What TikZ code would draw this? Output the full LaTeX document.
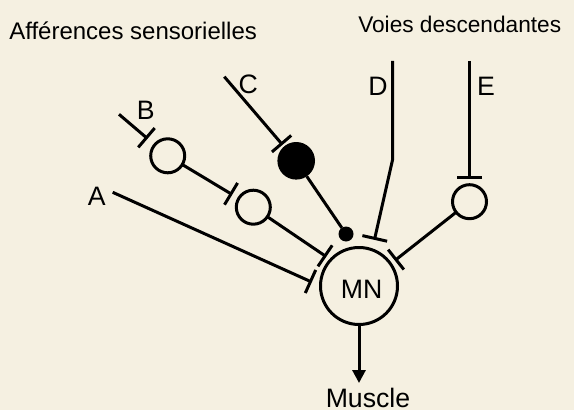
\documentclass[tikz,border=0pt]{standalone}
\usepackage{fontspec}
\setmainfont{Liberation Sans}
\usetikzlibrary{arrows.meta}
\definecolor{cream}{RGB}{245,240,225}

\begin{document}
\begin{tikzpicture}[x=0.75pt, y=-0.75pt,
        roundnode/.style={circle, draw=black, line width=2.25pt, inner sep=0pt, outer sep=0pt, minimum size=25.5pt},
        soma/.style={roundnode, minimum size=57.75pt},
        blacknode/.style={circle, fill=black, inner sep=0pt, outer sep=0pt, minimum size=28.2pt},
        dotnode/.style={circle, fill=black, inner sep=0pt, outer sep=0pt, minimum size=11.25pt},
        lbl/.style={inner sep=0pt, anchor=base, font=\fontsize{20}{24}\selectfont},
        title/.style={inner sep=0pt, anchor=base west, font=\fontsize{17}{20}\selectfont},
        axon/.style={line width=2.25pt},
        synapse/.style={axon, -{Bar[width=19pt]}}]
        \fill[cream] (0,0) rectangle (574,410);
        \useasboundingbox (0,0) rectangle (574,410);

        \node[soma] (mn) at (359,286) {};
        \node[roundnode] (nodeB) at (167.7,155.8) {};
        \node[roundnode] (nodeR) at (253.3,207.2) {};
        \node[roundnode] (nodeE) at (469.5,201.7) {};
        \node[blacknode] (nodeC) at (296.2,160.8) {};
        \node[dotnode] (dot) at (346,234) {};

        \coordinate (inA) at (112.7,192.3);
        \coordinate (inB) at (119,114.3);
        \coordinate (inC) at (224.3,76.7);
        \coordinate (inD) at (392.5,61);
        \coordinate (kinkD) at (392.5,160);
        \coordinate (inE) at (469.5,61);
        \coordinate (out) at (359,383);

        \node[title, font=\fontsize{18}{21}\selectfont] (aff) at (9,39.3) {Afférences sensorielles};
        \node[title] (voies) at (358,32.3) {Voies descendantes};
        \node[lbl] (labA) at (96.7,205) {A};
        \node[lbl] (labB) at (145.7,119.3) {B};
        \node[lbl] (labC) at (248.3,93.3) {C};
        \node[lbl] (labD) at (378,95.7) {D};
        \node[lbl] (labE) at (486,95.7) {E};
        \node[lbl] (labMN) at (361.7,298.3) {MN};
        \node[lbl] (muscle) at (368,407.5) {Muscle};

        \draw[synapse, shorten >=7.1pt] (inA) -- (mn.west);
        \draw[synapse, shorten >=7.05pt] (inB) -- (nodeB);
        \draw[synapse, shorten >=5.6pt] (nodeB) -- (nodeR);
        \draw[synapse, shorten >=4.1pt] (nodeR) -- (mn.137);
        \draw[synapse, shorten >=1.65pt] (inC) -- (nodeC);
        \draw[axon] (nodeC) -- (dot);
        \draw[synapse, shorten >=7.65pt] (inD) -- (kinkD) -- (mn.70);
        \draw[synapse, shorten >=4.4pt] (inE) -- (nodeE);
        \draw[synapse, shorten >=4.1pt] (nodeE) -- (mn.35);
        \draw[axon, -{Triangle[width=9.75pt, length=9.75pt]}] (mn) -- (out);
    \end{tikzpicture}
\end{document}
